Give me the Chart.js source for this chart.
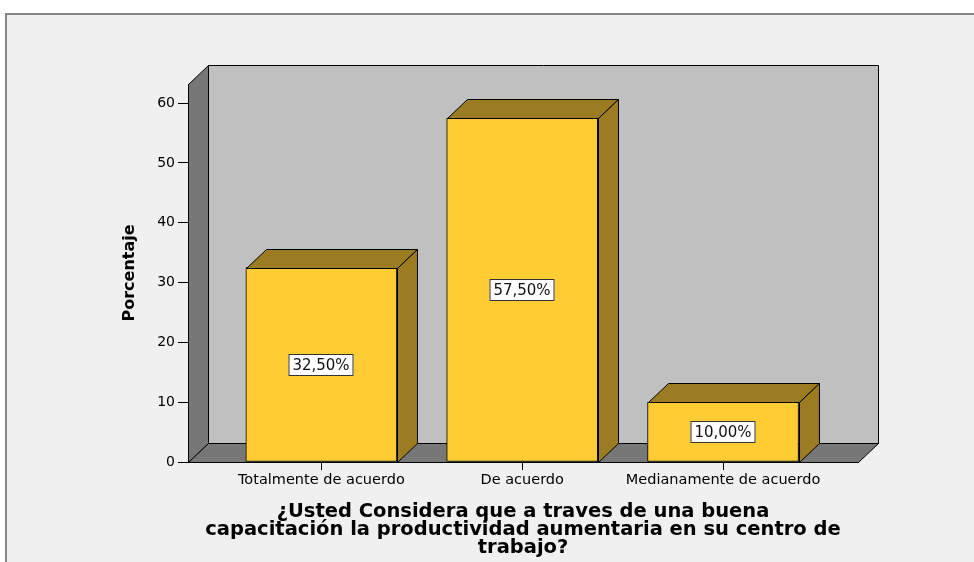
<!DOCTYPE html>
<html>
<head>
<meta charset="utf-8">
<script src="https://cdn.jsdelivr.net/npm/chart.js@4.4.1/dist/chart.umd.min.js"></script>
<style>
    html, body { margin: 0; padding: 0; width: 974px; height: 562px; overflow: hidden; background: #fff; }
    #marco { position: absolute; left: 5px; top: 13px; width: 980px; height: 560px; background: #f0f0f0;
             border-top: 2px solid #858585; border-left: 2px solid #858585; }
    #contenedor { position: absolute; left: 0; top: 0; width: 974px; height: 562px; }
</style>
</head>
<body>
<div id="marco"></div>
<div id="contenedor"><canvas id="grafico"></canvas></div>
<script>
// Datos del grafico
const categorias = ['Totalmente de acuerdo', 'De acuerdo', 'Medianamente de acuerdo'];
const porcentajes = [32.5, 57.5, 10.0];
const ticksY = [0, 10, 20, 30, 40, 50, 60];
const tituloX = ['¿Usted Considera que a traves de una buena',
                 'capacitación la productividad aumentaria en su centro de',
                 'trabajo?'];
const tituloY = 'Porcentaje';

// Profundidad del efecto 3D
const PROF_X = 20;
const PROF_Y = 19;

function poligono(ctx, puntos, relleno) {
    ctx.beginPath();
    ctx.moveTo(puntos[0][0], puntos[0][1]);
    for (let i = 1; i < puntos.length; i++) ctx.lineTo(puntos[i][0], puntos[i][1]);
    ctx.closePath();
    ctx.fillStyle = relleno;
    ctx.fill();
    ctx.stroke();
}

// Paredes y piso
const paredes3D = {
    id: 'paredes3D',
    beforeDraw(chart) {
        const ctx = chart.ctx;
        const a = chart.chartArea;
        const l = Math.round(a.left) + 0.5, r = Math.round(a.right) + 0.5;
        const t = Math.round(a.top) + 0.5, b = Math.round(a.bottom) + 0.5;
        ctx.save();
        ctx.lineWidth = 1;
        ctx.strokeStyle = '#000';
        poligono(ctx, [[l + PROF_X, t - PROF_Y], [r + PROF_X, t - PROF_Y], [r + PROF_X, b - PROF_Y], [l + PROF_X, b - PROF_Y]], '#c0c0c0');
        poligono(ctx, [[l, t], [l + PROF_X, t - PROF_Y], [l + PROF_X, b - PROF_Y], [l, b]], '#777777');
        poligono(ctx, [[l, b], [l + PROF_X, b - PROF_Y], [r + PROF_X, b - PROF_Y], [r, b]], '#777777');
        ctx.restore();
    }
};

// Caras superior y lateral de las barras, y etiquetas
const barras3D = {
    id: 'barras3D',
    afterDatasetsDraw(chart) {
        const ctx = chart.ctx;
        const meta = chart.getDatasetMeta(0);
        ctx.save();
        ctx.lineWidth = 1;
        ctx.strokeStyle = '#000';
        meta.data.forEach((bar, i) => {
            const p = bar.getProps(['x', 'y', 'base', 'width'], true);
            const L = Math.round(p.x - p.width / 2) + 0.5;
            const R = Math.round(p.x + p.width / 2) + 0.5;
            const T = Math.round(p.y) + 0.5;
            const B = Math.round(p.base) + 0.5;
            poligono(ctx, [[L, T], [L + PROF_X, T - PROF_Y], [R + PROF_X, T - PROF_Y], [R, T]], '#9c7c22');
            poligono(ctx, [[R, T], [R + PROF_X, T - PROF_Y], [R + PROF_X, B - PROF_Y], [R, B]], '#9c7c22');

            const texto = porcentajes[i].toFixed(2).replace('.', ',') + '%';
            ctx.font = '15px "DejaVu Sans"';
            const w = Math.round(ctx.measureText(texto).width) + 8;
            const h = 22;
            const cx = Math.round(p.x), cy = Math.round((p.y + p.base) / 2);
            ctx.fillStyle = '#fff';
            ctx.fillRect(cx - w / 2, cy - h / 2, w, h);
            ctx.strokeStyle = '#333';
            ctx.strokeRect(cx - w / 2 + 0.5, cy - h / 2 + 0.5, w - 1, h - 1);
            ctx.strokeStyle = '#000';
            ctx.fillStyle = '#111';
            ctx.textAlign = 'center';
            ctx.textBaseline = 'middle';
            ctx.fillText(texto, cx, cy + 1);
        });
        ctx.restore();
    }
};

Chart.defaults.font.family = '"DejaVu Sans"';
Chart.defaults.color = '#000';

new Chart(document.getElementById('grafico'), {
    type: 'bar',
    data: {
        datasets: [{
            data: porcentajes.map((v, i) => ({ x: i, y: v })),
            backgroundColor: '#ffcc33',
            borderColor: '#000',
            borderWidth: 1,
            borderSkipped: false,
            barThickness: 151
        }]
    },
    options: {
        responsive: true,
        maintainAspectRatio: false,
        animation: false,
        layout: { padding: { left: 100, top: 84, right: 116, bottom: 0 } },
        plugins: { legend: { display: false }, tooltip: { enabled: false } },
        scales: {
            x: {
                type: 'linear',
                offset: false,
                bounds: 'data',
                min: -0.664,
                max: 2.672,
                afterBuildTicks: s => { s.ticks = categorias.map((_, i) => ({ value: i })); },
                afterFit: s => { s.height = 100; },
                ticks: {
                    callback: v => categorias[v],
                    autoSkip: false,
                    maxRotation: 0,
                    padding: 2,
                    color: '#000',
                    font: { size: 14.5 }
                },
                grid: { offset: false, drawOnChartArea: false, tickLength: 8, color: '#000' },
                border: { color: '#000' },
                title: {
                    display: true,
                    text: tituloX,
                    color: '#000',
                    font: { size: 19.5, weight: 'bold', lineHeight: '18px' },
                    padding: { top: 0, bottom: 5 }
                }
            },
            y: {
                min: 0,
                max: 63.2,
                afterBuildTicks: s => { s.ticks = ticksY.map(v => ({ value: v })); },
                afterFit: s => { s.width = 88; },
                ticks: { padding: 3, color: '#000', font: { size: 14 } },
                grid: { drawOnChartArea: false, tickLength: 10, color: '#000' },
                border: { color: '#000' },
                title: {
                    display: true,
                    text: tituloY,
                    color: '#000',
                    font: { size: 16, weight: 'bold' },
                    padding: { top: 20, bottom: 0 }
                }
            }
        }
    },
    plugins: [paredes3D, barras3D]
});
</script>
</body>
</html>
